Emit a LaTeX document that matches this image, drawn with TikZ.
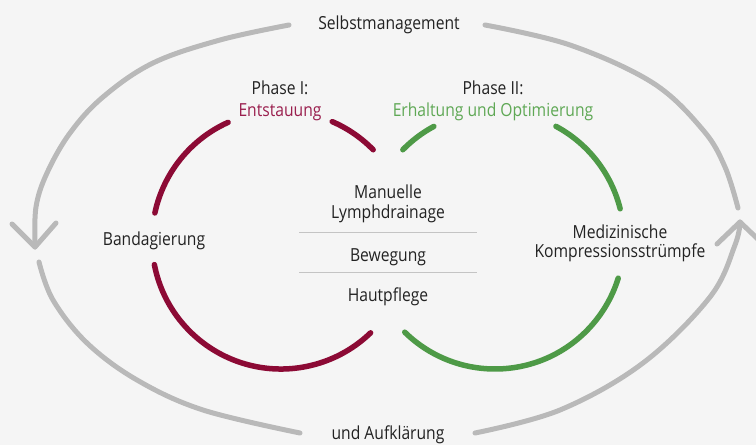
\documentclass[tikz,border=0pt]{standalone}
\usepackage{fontspec}
\setmainfont[FakeStretch=0.87]{Open Sans}
\usetikzlibrary{calc}
\definecolor{bg}{HTML}{F5F5F5}
\definecolor{phred}{HTML}{8C0A35}
\definecolor{phgreen}{HTML}{4E9A47}
\definecolor{loopgray}{HTML}{B9B9B9}
\definecolor{txt}{HTML}{222222}
\definecolor{redtxt}{HTML}{9A1F4E}
\definecolor{greentxt}{HTML}{5FA855}
\definecolor{sepgray}{HTML}{C4C4C4}
\tikzset{
  lbl/.style={anchor=base, inner sep=0pt, font=\fontsize{18}{21}\selectfont, text=txt},
  looparc/.style={draw=loopgray, line width=5pt, line cap=round, line join=round},
  redarc/.style={draw=phred, line width=5.5pt, line cap=round},
  greenarc/.style={draw=phgreen, line width=5.5pt, line cap=round},
  sepline/.style={draw=sepgray, line width=1pt}
}
\begin{document}
\begin{tikzpicture}[x=1pt,y=-1pt]
\fill[bg] (0,0) rectangle (756,445);
\useasboundingbox (0,0) rectangle (756,445);
\clip (0,0) rectangle (756,445);

% centres of the two phase circles
\coordinate (rc) at (281,240);
\coordinate (gc) at (495,240);

% red circle (Phase I)
\draw[redarc] ([shift={(-167.9:129)}]rc) arc[start angle=-167.9, end angle=-114.2, radius=129];
\draw[redarc] ([shift={(-66.6:129)}]rc) arc[start angle=-66.6, end angle=-44.4, radius=129];
\draw[redarc] ([shift={(-191:129)}]rc) arc[start angle=-191, end angle=-314, radius=129];

% green circle (Phase II)
\draw[greenarc] ([shift={(-135.6:129)}]gc) arc[start angle=-135.6, end angle=-118.3, radius=129];
\draw[greenarc] ([shift={(-61.8:129)}]gc) arc[start angle=-61.8, end angle=-14, radius=129];
\draw[greenarc] ([shift={(-225.6:129)}]gc) arc[start angle=-225.6, end angle=-342.8, radius=129];

% outer loop
\coordinate (tipL) at (35,247);
\coordinate (tipR) at (740,222);
\draw[looparc] plot[smooth, tension=0.6] coordinates {(289,25) (220,40) (153,63) (103,97) (70,133) (47,173) (36,207) (35,247)};
\draw[looparc] ($(tipL)+(-23,-23)$) -- (tipL) -- ($(tipL)+(21,-24)$);
\draw[looparc] plot[smooth, tension=0.6] coordinates {(39,262) (53,300) (87,343) (137,380) (203,410) (300,433)};
\draw[looparc] plot[smooth, tension=0.6] coordinates {(485,25) (570,45) (653,83) (703,130) (725,167) (738,208)};
\draw[looparc] plot[smooth, tension=0.6] coordinates {(475,433) (560,410) (643,363) (710,297) (735,245) (740,222)};
\draw[looparc] ($(tipR)+(-23,22)$) -- (tipR) -- ($(tipR)+(23,22)$);

% texts
\node[lbl] (sm) at (389,29) {Selbstmanagement};
\node[lbl] (ua) at (388,439) {und Aufklärung};
\node[lbl] (p1) at (280,94) {Phase I:};
\node[lbl, text=redtxt] (p1t) at (280,116) {Entstauung};
\node[lbl] (p2) at (493,94) {Phase II:};
\node[lbl, text=greentxt] (p2t) at (493,116) {Erhaltung und Optimierung};
\node[lbl] (band) at (154,245) {Bandagierung};
\node[lbl] (med1) at (620,238) {Medizinische};
\node[lbl] (med2) at (620,257) {Kompressionsstrümpfe};
\node[lbl] (m1) at (388,198) {Manuelle};
\node[lbl] (m2) at (388,218) {Lymphdrainage};
\node[lbl] (bew) at (388,261) {Bewegung};
\node[lbl] (haut) at (388,301) {Hautpflege};

\coordinate (s1a) at (299,232);
\coordinate (s1b) at (477,232);
\coordinate (s2a) at (299,272);
\coordinate (s2b) at (477,272);
\draw[sepline] (s1a) -- (s1b);
\draw[sepline] (s2a) -- (s2b);
\end{tikzpicture}
\end{document}
